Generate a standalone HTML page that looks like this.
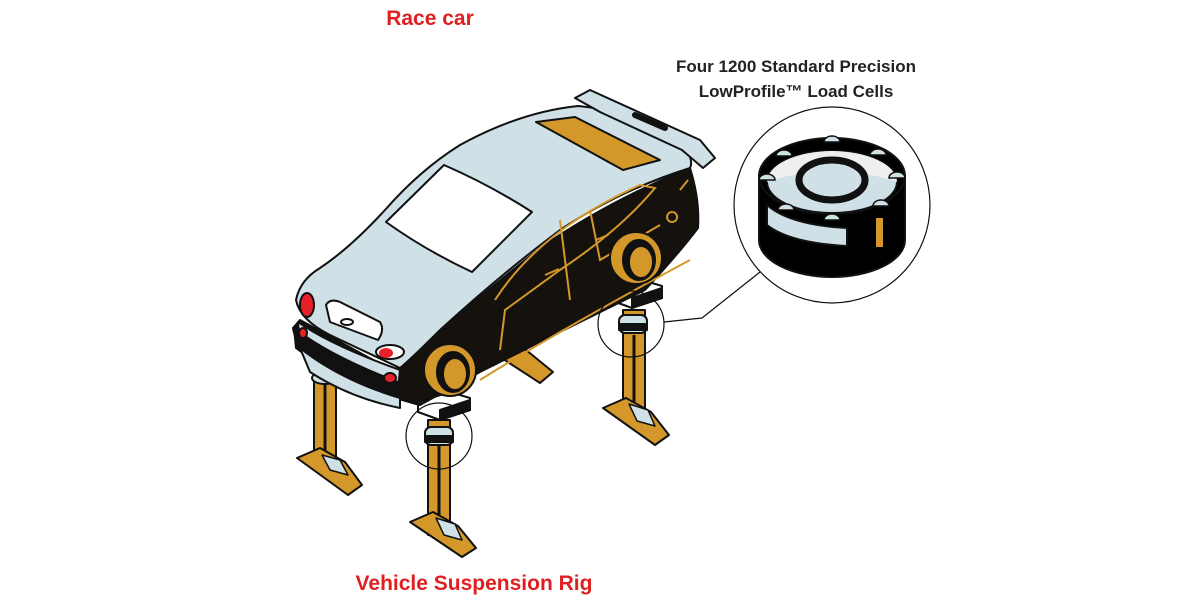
<!DOCTYPE html>
<html><head><meta charset="utf-8"><style>
html,body{margin:0;padding:0;background:#fff;width:1200px;height:600px;overflow:hidden}
svg{display:block}
</style></head><body>
<svg width="1200" height="600" viewBox="0 0 1200 600" xmlns="http://www.w3.org/2000/svg">
<style>text{font-family:"Liberation Sans",sans-serif;font-weight:bold}</style>
<g stroke="#111" stroke-width="2" stroke-linejoin="round">
<!-- rear-left stand -->
<polygon points="510,330 525,330 525,350 510,350" fill="#d4982a"/>
<polygon points="497,355 520,345 553,372 540,383" fill="#d4982a"/>
<!-- front-left stand -->
<rect x="314" y="375" width="22" height="95" fill="#d4982a"/>
<line x1="325" y1="380" x2="325" y2="470" stroke-width="3"/>
<polygon points="297,458 320,448 345,462 362,485 348,495" fill="#d4982a"/>
<polygon points="322,455 340,460 348,475 330,470" fill="#cfe0e6" stroke-width="1.5"/>
<ellipse cx="325" cy="378" rx="13" ry="6" fill="#cfe0e6"/>
<!-- front-right stand -->
<rect x="428" y="420" width="22" height="115" fill="#d4982a"/>
<line x1="439" y1="445" x2="439" y2="535" stroke-width="3"/>
<polygon points="410,522 433,512 458,526 476,548 462,557" fill="#d4982a"/>
<polygon points="436,518 455,524 462,540 444,535" fill="#cfe0e6" stroke-width="1.5"/>
<polygon points="418,402 450,392 470,398 470,410 440,420 418,412" fill="#fff"/>
<polygon points="440,410 470,400 470,410 440,420" fill="#111"/>
<rect x="425" y="427" width="28" height="18" rx="6" fill="#cfe0e6"/>
<rect x="425" y="436" width="28" height="6" fill="#111"/>
<!-- rear-right stand -->
<rect x="623" y="310" width="22" height="110" fill="#d4982a"/>
<line x1="634" y1="335" x2="634" y2="420" stroke-width="3"/>
<polygon points="603,408 626,398 651,412 669,435 655,445" fill="#d4982a"/>
<polygon points="629,404 648,410 655,426 637,421" fill="#cfe0e6" stroke-width="1.5"/>
<polygon points="610,290 642,280 662,286 662,298 632,308 610,300" fill="#fff"/>
<polygon points="632,298 662,288 662,298 632,308" fill="#111"/>
<rect x="619" y="315" width="28" height="18" rx="6" fill="#cfe0e6"/>
<rect x="619" y="324" width="28" height="6" fill="#111"/>
<!-- car body -->
<path d="M293,328 Q296,350 330,370 L395,398 L420,405 L410,380 L300,320 Z" fill="#111"/>
<path d="M395,370 Q450,320 540,248 Q610,200 690,168 Q700,200 698,228 Q680,252 645,290 L560,332 L480,372 L420,405 Q400,400 392,392 Z" fill="#15110d"/>
<path d="M296,300 Q300,280 320,268 Q350,248 385,210 Q420,170 460,145 Q520,112 578,106 Q640,112 678,140 Q695,158 690,168 Q620,190 560,230 Q500,275 440,330 Q410,360 400,368 L330,335 Q300,320 296,300 Z" fill="#cfe0e6"/>
<path d="M298,322 Q330,345 400,370 L398,388 Q350,375 300,348 Z" fill="#cfe0e6"/>
<path d="M294,328 Q330,356 398,382 L400,396 Q340,382 296,348 Z" fill="#111"/>
<path d="M300,348 Q340,380 400,398 L400,408 Q350,398 310,372 Z" fill="#cfe0e6"/>
<!-- spoiler -->
<polygon points="575,98 590,90 700,140 715,158 703,168 682,150 600,112" fill="#cfe0e6"/>
<path d="M635,115 L665,128" stroke-width="6" stroke-linecap="round"/>
<!-- trunk lid -->
<polygon points="536,122 575,117 660,160 623,170" fill="#d4982a"/>
<!-- windshield -->
<path d="M386,222 L444,165 Q490,185 532,212 L472,272 Q425,250 386,222 Z" fill="#fff"/>
<!-- hood details -->
<path d="M326,305 Q330,298 340,302 L380,322 Q385,330 378,340 L330,322 Z" fill="#fff"/>
<ellipse cx="347" cy="322" rx="6" ry="3" fill="#fff"/>
<ellipse cx="307" cy="305" rx="7" ry="12" fill="#e8202a"/>
<ellipse cx="390" cy="352" rx="14" ry="7" fill="#fff"/>
<ellipse cx="386" cy="353" rx="7" ry="5" fill="#e8202a" stroke="none"/>
<ellipse cx="303" cy="333" rx="4" ry="5" fill="#e8202a"/>
<ellipse cx="390" cy="378" rx="6" ry="5" fill="#e8202a"/>
</g>
<!-- gold side lines -->
<g fill="none" stroke="#d4982a" stroke-width="2">
<path d="M495,300 Q540,230 640,185 L655,188 Q620,230 560,270 L505,310 L500,350"/>
<path d="M480,380 Q560,330 690,260"/>
<path d="M560,220 L570,300 M590,210 L600,260 L660,225"/>
<path d="M545,275 l14,-6 M596,240 l12,-5"/>
<path d="M680,190 l8,-10 M672,212 a5,5 0 1 0 0.1,0"/>
</g>
<!-- wheels -->
<g stroke="#111" stroke-width="2">
<circle cx="450" cy="370" r="26" fill="#d4982a"/>
<ellipse cx="453" cy="372" rx="16" ry="20" fill="#111"/>
<ellipse cx="455" cy="374" rx="12" ry="16" fill="#d4982a"/>
<circle cx="636" cy="258" r="26" fill="#d4982a"/>
<ellipse cx="639" cy="260" rx="16" ry="20" fill="#111"/>
<ellipse cx="641" cy="262" rx="12" ry="16" fill="#d4982a"/>
</g>
<!-- circles and callout -->
<g fill="none" stroke="#111" stroke-width="1.2">
<circle cx="439" cy="436" r="33"/>
<circle cx="631" cy="324" r="33"/>
<circle cx="832" cy="205" r="98"/>
<polyline points="664,322 702,318 760,272"/>
</g>
<!-- load cell -->
<g stroke="#111" stroke-width="2">
<path d="M759,176 L759,240 A73,37 0 0 0 905,240 L905,176 Z" fill="#000"/>
<ellipse cx="832" cy="176" rx="73" ry="38" fill="#000"/>
<ellipse cx="832" cy="182" rx="65" ry="31" fill="#cfe0e6"/>
<path d="M767,182 A65,31 0 0 1 897,182 Q832,160 767,182Z" fill="#eee" stroke="none"/>
<path d="M767,205 Q790,225 847,228 L847,246 Q790,243 767,225Z" fill="#cfe0e6"/>
<rect x="876" y="218" width="7" height="29" fill="#d4982a" stroke="none"/>
<ellipse cx="832" cy="180" rx="33" ry="20" fill="#cfe0e6" stroke-width="7"/>
<g fill="#cfe0e6" stroke-width="1.5">
<path d="M824,142 a8,6 0 0 1 16,0z"/><path d="M776,156 a8,6 0 0 1 16,0z"/>
<path d="M870,155 a8,6 0 0 1 16,0z"/><path d="M759,180 a8,6 0 0 1 16,0z"/>
<path d="M889,178 a8,6 0 0 1 16,0z"/><path d="M778,210 a8,6 0 0 1 16,0z"/>
<path d="M873,206 a8,6 0 0 1 16,0z"/><path d="M824,220 a8,6 0 0 1 16,0z"/>
</g>
</g>
<text x="430" y="25" font-size="21" fill="#e02020" text-anchor="middle">Race car</text>
<text x="796" y="72" font-size="17" fill="#222" text-anchor="middle">Four 1200 Standard Precision</text>
<text x="796" y="97" font-size="17" fill="#222" text-anchor="middle">LowProfile™  Load Cells</text>
<text x="474" y="590" font-size="21" fill="#e02020" text-anchor="middle">Vehicle Suspension Rig</text>
</svg>
</body></html>
